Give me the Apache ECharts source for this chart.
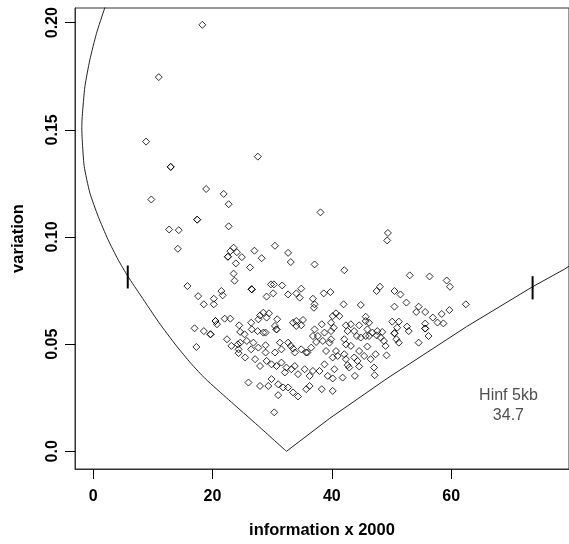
<!DOCTYPE html>
<html>
<head>
<meta charset="utf-8">
<script src="https://cdn.jsdelivr.net/npm/echarts@6/dist/echarts.min.js"></script>
<style>
  html, body { margin: 0; padding: 0; background: #fff; }
  #chart { width: 569px; height: 544px; }
</style>
</head>
<body>
<div id="chart"></div>
<script>
// tick values
const xTicks = [0, 20, 40, 60];
const yTicks = [0, 0.05, 0.10, 0.15, 0.20];

// scatter: information x 2000 vs variation
const points = [
    [18.3, 0.199], [11.0, 0.1746], [8.87, 0.1445], [13.0, 0.1327], [13.0, 0.1327], [27.6, 0.1375],
    [9.75, 0.1175], [12.74, 0.1035], [14.35, 0.1032], [14.2, 0.0945], [15.8, 0.0771], [17.6, 0.0724],
    [17.0, 0.0574], [17.3, 0.0487],
    [18.94, 0.1224], [21.88, 0.1201], [22.71, 0.1153], [17.44, 0.1081], [17.44, 0.1081], [22.71, 0.1050],
    [30.47, 0.0959], [27.03, 0.0936], [23.54, 0.0950], [24.09, 0.0929], [22.99, 0.0934], [22.59, 0.0908],
    [22.59, 0.0908], [24.92, 0.0906], [28.24, 0.0901], [32.67, 0.0926], [33.12, 0.0883], [23.92, 0.0877],
    [26.31, 0.0858], [37.11, 0.0872], [23.54, 0.0829], [23.70, 0.0796], [21.49, 0.0748], [21.71, 0.0728],
    [20.22, 0.0712], [26.58, 0.0756], [26.58, 0.0756], [26.58, 0.0756], [29.8, 0.0779], [30.3, 0.0779],
    [31.68, 0.0774], [30.18, 0.0737], [29.07, 0.0722], [34.88, 0.0759], [32.67, 0.0732], [34.05, 0.0737],
    [34.62, 0.0717],
    [38.1, 0.1115], [49.4, 0.1019], [49.28, 0.0984], [42.09, 0.0845], [53.06, 0.0821], [56.38, 0.0816],
    [59.25, 0.0797], [59.8, 0.0768], [48.07, 0.0768], [47.51, 0.0748], [50.5, 0.0748], [51.5, 0.0732],
    [38.65, 0.0737], [39.77, 0.0743],
    [41.98, 0.0686], [44.85, 0.0683], [50.5, 0.0675], [52.5, 0.0694], [54.55, 0.0675], [54.15, 0.0650],
    [55.65, 0.0650], [58.42, 0.0641], [59.7, 0.0659], [62.46, 0.0686], [56.93, 0.0624], [57.71, 0.0601],
    [58.70, 0.0597], [55.65, 0.0596], [55.65, 0.0573], [55.65, 0.0573], [56.21, 0.0538], [54.55, 0.0507],
    [50.12, 0.0605], [51.23, 0.0605], [52.61, 0.0582], [52.89, 0.0561], [50.95, 0.0577], [50.5, 0.0551],
    [50.5, 0.0551], [50.83, 0.0523], [51.23, 0.0507], [49.17, 0.0448],
    [40.15, 0.0631], [40.7, 0.0644], [41.26, 0.0631], [38.32, 0.0593], [39.87, 0.0600], [40.32, 0.0577],
    [39.87, 0.0561], [42.36, 0.0588], [43.19, 0.0593], [44.58, 0.0588], [42.64, 0.0561], [43.75, 0.0561],
    [45.68, 0.0628], [46.24, 0.0600], [45.68, 0.0608], [46.8, 0.0554], [47.62, 0.0561], [48.45, 0.0557],
    [48.17, 0.0531], [48.73, 0.0515], [49.0, 0.0492], [44.19, 0.0538], [44.85, 0.0531], [45.68, 0.0538],
    [37.66, 0.0538], [38.77, 0.0554], [38.49, 0.0515], [39.6, 0.0507], [39.87, 0.0523], [42.09, 0.0523],
    [42.36, 0.0499], [43.19, 0.0492], [45.96, 0.0489], [44.58, 0.0468], [45.42, 0.0445], [46.51, 0.0430],
    [47.34, 0.0453], [47.08, 0.0391], [47.18, 0.0355], [43.75, 0.0438], [44.3, 0.0422], [44.58, 0.0396],
    [43.86, 0.0352], [42.09, 0.0453], [42.36, 0.0430], [42.64, 0.0402], [42.92, 0.0391], [40.7, 0.0468],
    [40.98, 0.0445], [40.15, 0.0438], [40.43, 0.0383], [41.81, 0.0344], [40.15, 0.0340], [39.32, 0.0352],
    [38.32, 0.0290], [40.15, 0.0282], [38.77, 0.0406], [37.94, 0.0375], [39.04, 0.0468],
    [37.0, 0.0670], [45.96, 0.0569], [46.24, 0.0538], [47.51, 0.0541],
    [20.22, 0.0686], [18.55, 0.0686], [36.83, 0.0712], [37.11, 0.0686], [27.97, 0.0634], [28.52, 0.0647],
    [29.47, 0.0644], [29.07, 0.0624], [27.69, 0.0616], [30.85, 0.0616], [26.48, 0.0600], [24.48, 0.0588],
    [22.99, 0.0619], [22.04, 0.0619], [20.5, 0.0608], [20.5, 0.0608], [20.76, 0.0593], [18.55, 0.0561],
    [19.67, 0.0546], [19.67, 0.0546], [24.65, 0.0557], [25.37, 0.0546], [26.58, 0.0569], [27.57, 0.0561],
    [28.52, 0.0554], [28.9, 0.0554], [30.47, 0.0585], [30.73, 0.0569], [30.73, 0.0569], [33.5, 0.0600],
    [34.05, 0.0608], [35.17, 0.0613], [34.05, 0.0585], [34.88, 0.0588], [37.11, 0.0569], [22.43, 0.0523],
    [23.16, 0.0492], [24.26, 0.0499], [24.65, 0.0507], [25.75, 0.0515], [26.86, 0.0507], [27.69, 0.0484],
    [28.9, 0.0495], [24.37, 0.0476], [24.37, 0.0458], [26.48, 0.0476], [28.9, 0.0461], [30.47, 0.0461],
    [31.56, 0.0476], [31.3, 0.0507], [32.68, 0.0507], [33.12, 0.0492], [33.5, 0.0479], [33.79, 0.0461],
    [34.88, 0.0476], [35.71, 0.0461], [36.55, 0.0484], [36.83, 0.0538], [37.38, 0.0510], [35.9, 0.0461],
    [25.48, 0.0438], [27.14, 0.0430], [27.97, 0.0398], [29.07, 0.0422], [29.9, 0.0406], [30.73, 0.0398],
    [31.56, 0.0414], [32.39, 0.0391], [32.13, 0.0368], [33.22, 0.0383], [33.79, 0.0398], [34.34, 0.0360],
    [35.45, 0.0383], [36.28, 0.0352], [36.83, 0.0375], [26.03, 0.0321], [27.97, 0.0305], [29.35, 0.0305],
    [29.9, 0.0337], [31.01, 0.0313], [31.84, 0.0298], [31.01, 0.0262], [32.67, 0.0298], [33.5, 0.0275],
    [34.34, 0.0256], [35.71, 0.0290], [36.28, 0.0305], [30.35, 0.0182]
];

// funnel curve: left branch (top down to the vertex) and right branch
const funnelLeft = [
    [2.9, 0.214], [1.94, 0.2068], [0.56, 0.195], [-0.55, 0.1827], [-1.38, 0.1702], [-1.83, 0.1562],
    [-1.9, 0.151], [-1.83, 0.1454], [-1.5, 0.133], [-0.55, 0.1206], [0.83, 0.1097], [2.49, 0.0988],
    [4.15, 0.0896], [5.81, 0.0817], [8.04, 0.0724], [11.0, 0.0602], [13.85, 0.0496], [16.4, 0.0410],
    [18.83, 0.0338], [22.7, 0.0241], [27.7, 0.0118], [32.4, 0]
];
const funnelRight = [
    [32.4, 0], [39.6, 0.0153], [49.1, 0.0337], [62.6, 0.0582], [73.65, 0.0768], [79, 0.085], [82, 0.0905]
];

// short vertical bars on the curve
const leftBar = [[5.8, 0.0760], [5.8, 0.0867]];
const rightBar = [[73.65, 0.0709], [73.65, 0.0817]];

const noteText = 'Hinf 5kb\n34.7';
const notePos = [69.6, 0.0212];

const font = 'Liberation Sans, Arial, sans-serif';

const chart = echarts.init(document.getElementById('chart'), null, { renderer: 'canvas' });

const curveStyle = { color: '#222', width: 1 };
const barStyle = { color: '#000', width: 2 };

const option = {
    animation: false,
    backgroundColor: '#fff',
    grid: {
        left: 75,
        top: 8,
        width: 498,
        height: 462,
        show: true,
        borderColor: '#333',
        borderWidth: 1
    },
    xAxis: {
        type: 'value',
        min: -3.04,
        max: 79.75,
        name: 'information x 2000',
        nameLocation: 'middle',
        nameGap: 53,
        nameTextStyle: { fontFamily: font, fontSize: 16.5, fontWeight: 'bold', color: '#000' },
        splitLine: { show: false },
        axisLine: { show: true, onZero: false, lineStyle: { color: '#333' } },
        axisTick: { show: true, length: 10, lineStyle: { color: '#000' }, customValues: xTicks },
        axisLabel: {
            fontFamily: font, fontSize: 16, fontWeight: 'bold', color: '#000', margin: 20,
            customValues: xTicks
        }
    },
    yAxis: {
        type: 'value',
        min: -0.00824,
        max: 0.20684,
        name: 'variation',
        nameLocation: 'middle',
        nameGap: 48,
        nameRotate: 90,
        nameTextStyle: { fontFamily: font, fontSize: 16.5, fontWeight: 'bold', color: '#000' },
        splitLine: { show: false },
        axisLine: { show: true, onZero: false, lineStyle: { color: '#333' } },
        axisTick: { show: true, length: 10, lineStyle: { color: '#000' }, customValues: yTicks },
        axisLabel: {
            fontFamily: font, fontSize: 16, fontWeight: 'bold', color: '#000', margin: 14, rotate: 90,
            customValues: yTicks,
            formatter: v => v === 0 ? '0.0' : v.toFixed(2)
        }
    },
    series: [
        { type: 'line', data: funnelLeft, symbol: 'none', smooth: 0.2, lineStyle: curveStyle, silent: true },
        { type: 'line', data: funnelRight, symbol: 'none', lineStyle: curveStyle, silent: true },
        { type: 'line', data: leftBar, symbol: 'none', lineStyle: barStyle, silent: true },
        { type: 'line', data: rightBar, symbol: 'none', lineStyle: barStyle, silent: true },
        {
            type: 'scatter',
            data: points,
            symbol: 'diamond',
            symbolSize: 7,
            itemStyle: { color: 'rgba(0,0,0,0)', borderColor: '#000', borderWidth: 1 },
            silent: true
        },
        {
            type: 'scatter',
            data: [notePos],
            symbolSize: 0,
            silent: true,
            label: {
                show: true,
                position: 'inside',
                formatter: noteText,
                fontFamily: font,
                fontSize: 16,
                lineHeight: 20,
                color: '#222',
                align: 'center'
            }
        }
    ]
};

chart.setOption(option);
</script>
</body>
</html>
